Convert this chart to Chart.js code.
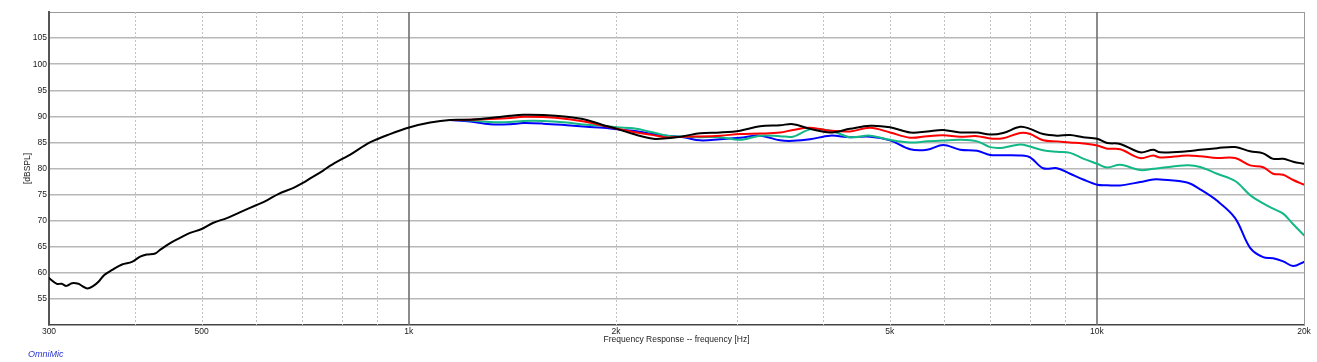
<!DOCTYPE html>
<html>
<head>
<meta charset="utf-8">
<script src="https://cdn.jsdelivr.net/npm/chart.js@4.4.1/dist/chart.umd.min.js"></script>
<style>
  html, body { margin: 0; padding: 0; background: #ffffff; }
  #wrap { position: relative; width: 1317px; height: 362px; }
  canvas { display: block; }
</style>
</head>
<body>
<div id="wrap"><canvas id="c" width="1317" height="362"></canvas></div>
<script>
// ---- data ----
const freqLow = [300,308,313,318,324,331,335,341,348,354,361,370,383,396,407,416,428,435,450,465,481,500,520,544,568,601,622,646,680,703,719,751,768,799,821,878,939,1004,1074];
const blackLow = [59.0,57.9,57.9,57.5,58.0,57.9,57.5,57.0,57.5,58.3,59.6,60.5,61.6,62.1,63.1,63.5,63.7,64.4,65.7,66.7,67.65,68.4,69.6,70.5,71.6,73.0,73.9,75.1,76.3,77.3,78.1,79.6,80.5,81.8,82.6,85.0,86.6,87.9,88.8];

const freqHigh = [1148,1228,1313,1404,1466,1568,1697,1814,1918,2006,2121,2267,2371,2507,2651,2834,3030,3240,3464,3618,3830,4095,4378,4681,5006,5353,5666,5979,6328,6698,6996,7307,7735,7998,8354,8755,9144,9551,10010,10353,10812,11560,12074,12360,13527,14129,14956,15883,16701,17444,18038,18653,19288,20000];
const blackHigh = [89.3,89.35,89.7,90.1,90.3,90.25,89.9,89.3,88.3,87.6,86.6,85.7,85.8,86.2,86.75,86.9,87.25,88.1,88.3,88.5,87.6,86.9,87.6,88.2,87.9,86.9,87.1,87.4,86.9,86.9,86.5,86.8,88.0,87.6,86.6,86.3,86.4,86.0,85.7,84.9,84.7,83.1,83.6,83.1,83.3,83.6,83.9,84.1,83.3,82.9,81.85,81.85,81.3,80.9];
const redHigh = [89.3,89.35,89.5,89.7,89.9,89.85,89.5,88.9,88.2,87.6,87.0,86.4,85.95,86.1,86.15,86.3,86.6,86.7,86.9,87.4,87.8,87.25,87.1,87.8,86.9,85.9,86.2,86.35,86.1,86.2,85.75,85.8,86.8,86.6,85.4,85.2,85.0,84.8,84.4,83.8,83.7,82.0,82.5,82.1,82.5,82.35,82.0,82.0,80.6,80.25,79.0,78.8,77.8,76.9];
const greenHigh = [89.3,89.2,88.9,88.9,89.1,89.1,88.8,88.4,88.2,87.9,87.7,86.9,86.3,86.1,86.0,86.0,85.5,86.3,86.2,86.1,87.5,87.3,86.0,86.3,85.5,85.0,85.2,85.35,85.5,85.2,84.1,84.0,84.6,84.2,83.5,83.2,83.0,81.9,80.9,80.2,80.7,79.7,79.95,80.1,80.6,80.3,79.0,77.6,74.9,73.3,72.3,71.35,69.3,67.2];
const blueHigh = [89.3,89.0,88.5,88.5,88.7,88.6,88.3,88.0,87.8,87.5,87.25,86.6,86.3,86.0,85.4,85.6,85.9,86.3,85.4,85.3,85.6,86.3,86.0,86.1,85.4,83.7,83.6,84.5,83.6,83.4,82.6,82.55,82.5,82.15,80.05,80.05,79.0,77.9,76.9,76.8,76.75,77.4,77.9,77.9,77.3,76.0,73.8,70.5,64.8,63.0,62.8,62.2,61.3,62.1];

const xTickValues = [300,400,500,600,700,800,900,1000,2000,3000,4000,5000,6000,7000,8000,9000,10000,20000];
const xTickLabels = {300:'300',500:'500',1000:'1k',2000:'2k',5000:'5k',10000:'10k',20000:'20k'};
const minorGrid = [400,500,600,700,800,900,2000,3000,4000,5000,6000,7000,8000,9000];
const majorGrid = [1000,10000];

function pts(fs, vs) { return fs.map((f, i) => ({x: f, y: vs[i]})); }

const FONT = "'Liberation Sans', Arial, Helvetica, sans-serif";

const vGridPlugin = {
  id: 'vgrid',
  beforeDatasetsDraw(chart) {
    const {ctx, chartArea: a, scales: {x}} = chart;
    ctx.save();
    ctx.lineWidth = 1;
    ctx.strokeStyle = '#c2c2c2';
    ctx.setLineDash([2, 2]);
    minorGrid.forEach(v => {
      const px = Math.round(x.getPixelForValue(v)) + 0.5;
      ctx.beginPath(); ctx.moveTo(px, a.top); ctx.lineTo(px, a.bottom); ctx.stroke();
    });
    ctx.setLineDash([]);
    ctx.strokeStyle = '#6e6e6e';
    ctx.lineWidth = 1.6;
    majorGrid.forEach(v => {
      const px = Math.round(x.getPixelForValue(v));
      ctx.beginPath(); ctx.moveTo(px, a.top); ctx.lineTo(px, a.bottom); ctx.stroke();
    });
    ctx.strokeStyle = '#9a9a9a';
    ctx.lineWidth = 1;
    const rx = Math.round(x.getPixelForValue(20000)) + 0.5;
    ctx.beginPath(); ctx.moveTo(rx, a.top); ctx.lineTo(rx, a.bottom); ctx.stroke();
    ctx.restore();
  },
  afterDraw(chart) {
    const {ctx} = chart;
    ctx.save();
    ctx.fillStyle = '#2a35d0';
    ctx.font = "italic 9px " + FONT;
    ctx.textBaseline = 'middle';
    ctx.textAlign = 'left';
    ctx.fillText('OmniMic', 28, 354);
    ctx.restore();
  }
};

new Chart(document.getElementById('c'), {
  type: 'line',
  data: {
    datasets: [
      {label: 'black', data: pts(freqLow.concat(freqHigh), blackLow.concat(blackHigh)), borderColor: '#000000', borderWidth: 2},
      {label: 'red', data: pts(freqHigh, redHigh), borderColor: '#ff0000', borderWidth: 2},
      {label: 'green', data: pts(freqHigh, greenHigh), borderColor: '#12b886', borderWidth: 2},
      {label: 'blue', data: pts(freqHigh, blueHigh), borderColor: '#0000ff', borderWidth: 2}
    ]
  },
  options: {
    responsive: false,
    animation: false,
    events: [],
    layout: {padding: {left: 0, top: 12, right: 13, bottom: 0}},
    elements: {
      point: {radius: 0},
      line: {tension: 0.35, fill: false, borderJoinStyle: 'round', borderCapStyle: 'round'}
    },
    plugins: {legend: {display: false}, tooltip: {enabled: false}, title: {display: false}},
    scales: {
      x: {
        type: 'logarithmic',
        min: 300,
        max: 20000,
        afterBuildTicks(scale) { scale.ticks = xTickValues.map(v => ({value: v})); },
        afterFit(scale) { scale.height = 37; },
        grid: {display: false, drawTicks: false},
        border: {display: true, color: '#444444', width: 1.5},
        ticks: {
          autoSkip: false, maxRotation: 0, minRotation: 0, padding: 2,
          color: '#222222', font: {family: FONT, size: 8.5},
          callback(v) { return xTickLabels[v] || ''; }
        },
        title: {
          display: true, text: 'Frequency Response -- frequency [Hz]',
          color: '#222222', font: {family: FONT, size: 8.5},
          padding: {top: 0, bottom: 17}
        }
      },
      y: {
        type: 'linear',
        min: 50,
        max: 110,
        afterFit(scale) { scale.width = 49; },
        grid: {
          drawTicks: false,
          color(ctx) { return ctx.tick && ctx.tick.value === 50 ? 'rgba(0,0,0,0)' : (ctx.tick && ctx.tick.value === 110 ? '#9a9a9a' : '#b8b8b8'); },
          lineWidth(ctx) { return ctx.tick && ctx.tick.value === 110 ? 1 : 1.5; }
        },
        border: {display: true, color: '#555555', width: 2},
        ticks: {
          stepSize: 5, padding: 2, color: '#222222', font: {family: FONT, size: 8.5},
          callback(v) { return (v === 50 || v === 110) ? '' : String(v); }
        },
        title: {
          display: true, text: '[dBSPL]',
          color: '#222222', font: {family: FONT, size: 8.5},
          padding: {top: 23, bottom: 0}
        }
      }
    }
  },
  plugins: [vGridPlugin]
});
</script>
</body>
</html>
